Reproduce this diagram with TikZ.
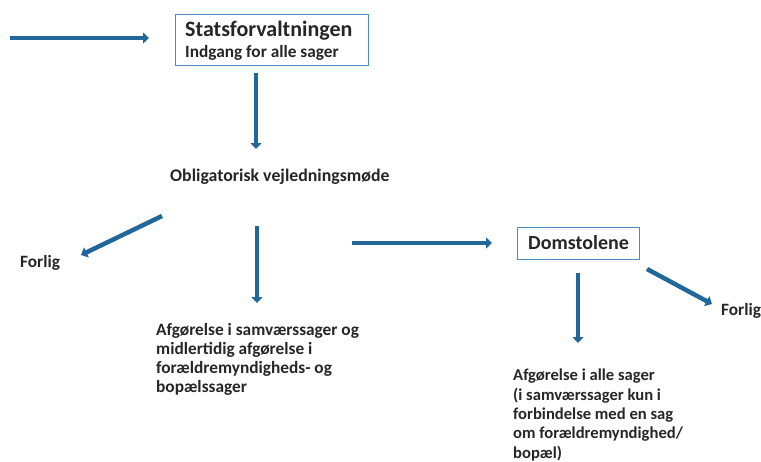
\documentclass[tikz,border=0pt]{standalone}
\usepackage{fontspec}
\setmainfont{Carlito}
\usetikzlibrary{arrows.meta}
\definecolor{arr}{HTML}{22679A}
\definecolor{boxc}{HTML}{4A8CC8}
\definecolor{txt}{HTML}{262626}
\tikzset{
  flow/.style={draw=arr,line width=4.5pt,-{Triangle[length=6pt,width=11pt]}},
  lbl/.style={inner sep=0pt,anchor=base west,text=txt,font=\fontsize{17.3}{19}\bfseries\selectfont},
  ttl/.style={inner sep=0pt,anchor=base west,text=txt,font=\fontsize{20}{24}\bfseries\selectfont},
  multi/.style={lbl,align=left,anchor=north west},
  framebox/.style={draw=boxc,line width=1.1pt,inner sep=0pt,anchor=north west}
}
\begin{document}
\begin{tikzpicture}[x=1pt,y=-1pt]
\useasboundingbox (0,0) rectangle (761,461);
% Statsforvaltningen box
\node[framebox,minimum width=193pt,minimum height=51pt] (sf) at (175,14) {};
\node[ttl,font=\fontsize{22}{24}\bfseries\selectfont] (sft) at (185,36) {Statsforvaltningen};
\node[lbl] (sfi) at (185,57) {Indgang for alle sager};
% Obligatorisk
\node[lbl,font=\fontsize{17.8}{19}\bfseries\selectfont] (ob) at (170,181) {Obligatorisk vejledningsmøde};
% Forlig left
\node[lbl] (fl) at (20,267) {Forlig};
% Afgorelse block
\node[multi] (af) at (156,323) {Afgørelse i samværssager og\\midlertidig afgørelse i\\forældremyndigheds- og\\bopælssager};
% Domstolene
\node[framebox,minimum width=122pt,minimum height=32pt] (ds) at (517,227) {};
\node[ttl] (dst) at (528,249) {Domstolene};
% Forlig right
\node[lbl] (fr) at (721,315) {Forlig};
% bottom block
\node[multi,font=\fontsize{16.6}{19.3}\bfseries\selectfont] (ab) at (513,369) {Afgørelse i alle sager\\(i samværssager kun i\\forbindelse med en sag\\om forældremyndighed/\\bopæl)};
% arrow coordinates
\coordinate (a1s) at (10,38);   \coordinate (a1e) at (149,38);
\coordinate (a2s) at (256,73);  \coordinate (a2e) at (256,149);
\coordinate (a3s) at (162,216); \coordinate (a3e) at (81,255);
\coordinate (a4s) at (257,226); \coordinate (a4e) at (257,303);
\coordinate (a5s) at (352,243); \coordinate (a5e) at (492,243);
\coordinate (a6s) at (578,273); \coordinate (a6e) at (578,343);
\coordinate (a7s) at (647,269); \coordinate (a7e) at (712,304);
\draw[flow] (a1s) -- (a1e);
\draw[flow] (a2s) -- (a2e);
\draw[flow] (a3s) -- (a3e);
\draw[flow] (a4s) -- (a4e);
\draw[flow] (a5s) -- (a5e);
\draw[flow] (a6s) -- (a6e);
\draw[flow] (a7s) -- (a7e);
\end{tikzpicture}
\end{document}
